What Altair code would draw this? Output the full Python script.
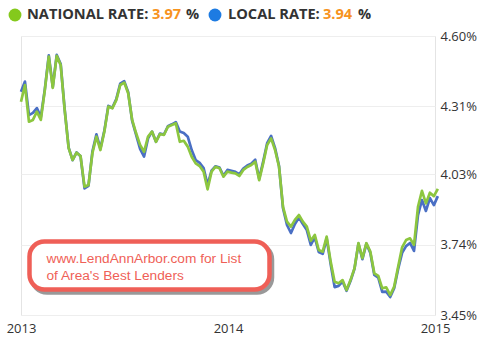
import altair as alt
import pandas as pd

# Weekly 30-year fixed mortgage rates (%), first week of 2013 through the start of 2015
national = [
    4.329, 4.398, 4.247, 4.254, 4.288, 4.254, 4.377, 4.515, 4.386, 4.518,
    4.480, 4.295, 4.138, 4.089, 4.119, 4.105, 3.979, 3.986, 4.118, 4.185,
    4.130, 4.206, 4.309, 4.302, 4.336, 4.398, 4.408, 4.364, 4.254, 4.199,
    4.151, 4.123, 4.185, 4.206, 4.164, 4.196, 4.192, 4.226, 4.233, 4.240,
    4.164, 4.168, 4.144, 4.102, 4.075, 4.064, 4.041, 3.968, 4.041, 4.061,
    4.055, 4.020, 4.041, 4.037, 4.034, 4.023, 4.048, 4.060, 4.068, 4.082,
    4.006, 4.075, 4.151, 4.178, 4.130, 4.061, 3.896, 3.835, 3.814, 3.842,
    3.862, 3.835, 3.814, 3.756, 3.780, 3.718, 3.711, 3.773, 3.670, 3.587,
    3.581, 3.594, 3.553, 3.594, 3.642, 3.746, 3.684, 3.746, 3.711, 3.622,
    3.611, 3.560, 3.564, 3.532, 3.567, 3.649, 3.729, 3.759, 3.766, 3.739,
    3.896, 3.962, 3.910, 3.954, 3.940, 3.970,
]
local = [
    4.370, 4.412, 4.274, 4.283, 4.303, 4.266, 4.380, 4.520, 4.390, 4.522,
    4.484, 4.298, 4.140, 4.088, 4.120, 4.104, 3.972, 3.982, 4.125, 4.195,
    4.136, 4.210, 4.312, 4.304, 4.340, 4.404, 4.414, 4.368, 4.250, 4.192,
    4.135, 4.103, 4.178, 4.206, 4.164, 4.198, 4.194, 4.228, 4.236, 4.245,
    4.206, 4.200, 4.185, 4.130, 4.089, 4.077, 4.056, 3.986, 4.045, 4.063,
    4.058, 4.024, 4.048, 4.044, 4.040, 4.030, 4.054, 4.066, 4.074, 4.090,
    4.012, 4.082, 4.158, 4.188, 4.138, 4.064, 3.890, 3.821, 3.788, 3.825,
    3.852, 3.825, 3.800, 3.739, 3.770, 3.710, 3.702, 3.766, 3.660, 3.565,
    3.570, 3.588, 3.550, 3.590, 3.640, 3.744, 3.680, 3.744, 3.706, 3.615,
    3.604, 3.545, 3.546, 3.524, 3.560, 3.640, 3.706, 3.734, 3.747, 3.714,
    3.862, 3.924, 3.879, 3.932, 3.903, 3.940,
]
first_week = "2013-01-01"
year_ticks = [2013, 2014, 2015]
rate_ticks = [3.45, 3.74, 4.03, 4.31, 4.60]
note_lines = ["www.LendAnnArbor.com for List", "of Area's Best Lenders"]

GREEN = "#8cc63f"
BLUE = "#4a6fc4"
DOT_GREEN = "#84c91c"
DOT_BLUE = "#1d7be2"
ORANGE = "#f7931e"
INK = "#333333"
NOTE_RED = "#ef5f57"

dates = pd.date_range(first_week, periods=len(national), freq="7D")
rates = pd.DataFrame({"date": dates, "national": national, "local": local})

x_enc = alt.X(
    "date:T",
    scale=alt.Scale(domain=[alt.DateTime(year=year_ticks[0], month=1, date=1),
                            alt.DateTime(year=year_ticks[-1], month=1, date=1)]),
    axis=alt.Axis(values=[alt.DateTime(year=y, month=1, date=1) for y in year_ticks],
                  format="%Y", title=None, grid=False, domain=False, ticks=False,
                  labelFlush=False, labelOverlap=False, labelPadding=7,
                  labelFont="Open Sans", labelFontSize=13, labelColor=INK),
)
y_scale = alt.Scale(domain=[rate_ticks[0], rate_ticks[-1]], zero=False, nice=False)

local_line = alt.Chart(rates).mark_line(color=BLUE, strokeWidth=2.7, strokeJoin="round").encode(
    x=x_enc,
    y=alt.Y("local:Q", scale=y_scale,
            axis=alt.Axis(orient="right", values=rate_ticks, format=".2f",
                          labelExpr="datum.label + '%'", title=None, grid=True,
                          gridColor="#eeeeee", domain=False, ticks=False,
                          labelFlush=False, labelPadding=5, labelFont="Open Sans",
                          labelFontSize=13, labelColor=INK)),
)
national_line = alt.Chart(rates).mark_line(color=GREEN, strokeWidth=2.7, strokeJoin="round").encode(
    x=alt.X("date:T"),
    y=alt.Y("national:Q", scale=y_scale),
)


def single():
    return alt.Chart(alt.Data(values=[{}]))


def label(text, x, y, color, **kw):
    return single().mark_text(align="left", baseline="middle", color=color, **kw).encode(
        x=alt.value(x), y=alt.value(y), text=alt.value(text))


head = dict(font="Open Sans", fontSize=14.6, fontWeight="bold")
header = [
    single().mark_point(filled=True, shape="circle", size=165, color=DOT_GREEN, opacity=1)
    .encode(x=alt.value(-6), y=alt.value(-21)),
    label("NATIONAL RATE:", 6, -21, INK, **head),
    label(f"{national[-1]:.2f}", 131, -21, ORANGE, **head),
    label("%", 165, -21, INK, **head),
    single().mark_point(filled=True, shape="circle", size=165, color=DOT_BLUE, opacity=1)
    .encode(x=alt.value(194), y=alt.value(-21)),
    label("LOCAL RATE:", 207, -21, INK, **head),
    label(f"{local[-1]:.2f}", 302, -21, ORANGE, **head),
    label("%", 337, -21, INK, **head),
]

# Call-out box with a soft drop shadow
shadow = single().mark_rect(cornerRadius=15, fill="#ffffff", fillOpacity=0, stroke="#555555",
                            strokeWidth=4.5, strokeOpacity=0.6).encode(
    x=alt.value(11), x2=alt.value(251), y=alt.value(208.5), y2=alt.value(256.5))
box = single().mark_rect(cornerRadius=15, fill="#ffffff", stroke=NOTE_RED, strokeWidth=4.5).encode(
    x=alt.value(8.5), x2=alt.value(248.5), y=alt.value(205.5), y2=alt.value(253.5))
note = [
    label(note_lines[0], 25.5, 223.3, NOTE_RED, font="Liberation Sans", fontSize=13.7),
    label(note_lines[1], 25.5, 239.5, NOTE_RED, font="Liberation Sans", fontSize=13.7),
]

chart = alt.layer(local_line, national_line, shadow, box, *note, *header).properties(
    width=414, height=279,
    padding={"left": 21, "top": 36, "right": 49, "bottom": 29},
    autosize=alt.AutoSizeParams(type="none"),
).configure_view(stroke="#e4e4e4", strokeWidth=1)

chart.save("out.html", embed_options={"renderer": "svg", "actions": False})
